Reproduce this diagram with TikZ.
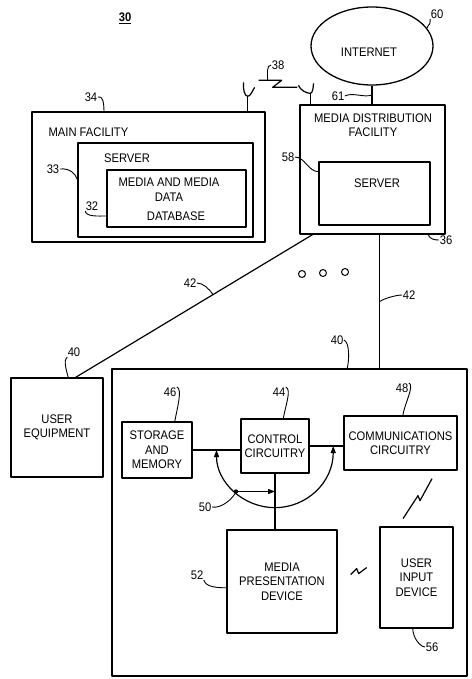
\documentclass[tikz,border=0pt]{standalone}
\usepackage{fontspec}
\setmainfont{Liberation Sans}[FakeStretch=0.9]
\usetikzlibrary{shapes.geometric,arrows.meta,calc}
\newcommand\dgf{\fontsize{12.5}{14.5}\selectfont}
\begin{document}
\begin{tikzpicture}[x=1bp,y=-1bp,line width=1.2bp,line join=round,
  box/.style={draw,line width=1.3bp,inner sep=0pt,align=center,font=\dgf},
  txt/.style={inner sep=0pt,align=center,font=\dgf},
  num/.style={inner sep=0pt,font=\dgf},
  lead/.style={line width=0.9bp},
  onetip/.style={-{Triangle[length=7bp,width=5bp]}},
  twotip/.style={{Triangle[length=7bp,width=5bp]}-{Triangle[length=7bp,width=5bp]}},
  dotc/.style={draw,circle,line width=1bp,minimum size=7bp,inner sep=0pt}]
\useasboundingbox (0,0) rectangle (472,679);

\node[num] (l30) at (125,18) {\underline{\textbf{30}}};

% internet
\node[draw,ellipse,line width=1.3bp,minimum width=122bp,minimum height=78bp,inner sep=0pt] (inet) at (372,46) {};
\node[txt] (tinet) at (369,52) {INTERNET};
\node[num] (l60) at (437,14) {60};

% main facility
\node[box,minimum width=233bp,minimum height=130bp] (main) at (148.5,177) {};
\node[txt,anchor=west] (tmain) at (48,132) {MAIN FACILITY};
\node[box,minimum width=175bp,minimum height=94bp] (msrv) at (165.5,190) {};
\node[txt] (tmsrv) at (127,158) {SERVER};
\node[box,minimum width=139bp,minimum height=57bp] (mdb) at (176.5,198.5) {};
\node[txt] (tmdb) at (169,189.5) {MEDIA AND MEDIA\\DATA};
\node[txt] (tdb) at (176,216) {DATABASE};
\node[num] (l34) at (91,97) {34};
\node[num] (l33) at (53,169) {33};
\node[num] (l32) at (92,206) {32};

% media distribution facility
\node[box,minimum width=145bp,minimum height=129bp] (mdf) at (372.5,169.5) {};
\node[txt] (tmdf) at (373,125) {MEDIA DISTRIBUTION\\FACILITY};
\node[box,minimum width=111bp,minimum height=63bp] (dsrv) at (374.5,193.5) {};
\node[txt] (tdsrv) at (377,183) {SERVER};
\node[num] (l58) at (288,157) {58};
\node[num] (l36) at (446,240) {36};
\node[num] (l61) at (338,96) {61};
\node[num] (l38) at (278,65) {38};

% user equipment
\node[box,minimum width=92bp,minimum height=99bp] (ue) at (57,427.5) {USER\\EQUIPMENT};
\node[box,minimum width=355bp,minimum height=307bp] (big) at (289.5,522.5) {};
\node[box,minimum width=70bp,minimum height=56bp] (stor) at (157,450) {STORAGE\\AND\\MEMORY};
\node[box,minimum width=68bp,minimum height=54bp] (ctrl) at (275,446) {CONTROL\\CIRCUITRY};
\node[box,minimum width=113bp,minimum height=54bp] (comm) at (400.5,443) {COMMUNICATIONS\\CIRCUITRY};
\node[box,minimum width=110bp,minimum height=103bp] (mpd) at (282,581.5) {MEDIA\\PRESENTATION\\DEVICE};
\node[box,minimum width=73bp,minimum height=101bp] (uid) at (416.5,577.5) {USER\\INPUT\\DEVICE};
\node[num] (l42a) at (190,283) {42};
\node[num] (l42b) at (409,295) {42};
\node[num] (l40a) at (74,352) {40};
\node[num] (l40b) at (337,340) {40};
\node[num] (l46) at (170,392) {46};
\node[num] (l44) at (279,392) {44};
\node[num] (l48) at (402,388) {48};
\node[num] (l50) at (205,507) {50};
\node[num] (l52) at (197,575) {52};
\node[num] (l56) at (432,647) {56};

\node[dotc] (c1) at (302,274) {};
\node[dotc] (c2) at (323,273) {};
\node[dotc] (c3) at (345,272) {};

% internet link
\draw (inet.south) -- (inet.south |- mdf.north);
\draw[lead] (l60.south west) .. controls +(0,8) and +(2,-6) .. (inet.18);
\draw[lead] (l61.east) .. controls +(8,-4) and +(-8,3) .. ($(inet.south)!0.5!(inet.south |- mdf.north)$);

% antennas
\coordinate (antL) at ($(main.north west)!0.923!(main.north east)$);
\coordinate (antR) at ($(mdf.north west)!0.076!(mdf.north east)$);
\draw (antL) -- ++(0,-15) coordinate (antLt);
\draw (antR) -- ++(0,-11) coordinate (antRt);
\draw (antLt) .. controls +(-3,0) and +(-1,6) .. ++(-4,-14);
\draw (antLt) .. controls +(3,0) and +(-2,3) .. ++(7,-9);
\draw (antRt) .. controls +(-4,0) and +(2,5) .. ++(-12,-8);
\draw (antRt) .. controls +(2,0) and +(0,4) .. ++(3,-10);
\coordinate (zL) at ($(antLt)+(11,-16)$);
\coordinate (zR) at ($(antRt)+(-13,-6)$);
\draw (zL) -- ++(23,0) -- ++(-9,7) -- (zR);
\draw[lead] (l38.west) .. controls +(-5,0) and +(0,-6) .. ($(zL)+(9,0)$);

% labels main facility
\draw[lead] (l34.east) .. controls +(5,-2) and +(0,-8) .. ($(main.north west)!0.31!(main.north east)$);
\draw[lead] (l33.east) .. controls +(10,-1) and +(-2,-6) .. ($(msrv.north west)!0.39!(msrv.south west)$);
\draw[lead] (l32.south west) .. controls +(1,6) and +(-8,0) .. ($(mdb.north west)!0.8!(mdb.south west)$);
\draw[lead] (l58.east) .. controls +(10,0) and +(-10,0) .. ($(dsrv.north west)!0.16!(dsrv.south west)$);
\draw[lead] ($(mdf.south west)!0.88!(mdf.south east)$) .. controls +(2,5) and +(-4,0) .. (l36.west);

% links 42
\coordinate (m42a) at ($(mdf.south west)!0.09!(mdf.south east)$);
\coordinate (u42) at ($(ue.north west)!0.70!(ue.north east)$);
\draw (m42a) -- (u42);
\coordinate (m42b) at ($(mdf.south west)!0.55!(mdf.south east)$);
\draw (m42b) -- (m42b |- big.north);
\draw[lead] (l42a.east) .. controls +(6,0) and +(-4,-6) .. ($(m42a)!0.42!(u42)$);
\draw[lead] (l42b.west) .. controls +(-6,0) and +(4,-3) .. ($(m42b)!0.5!(m42b |- big.north)$);
\draw[lead] (l40a.south west) .. controls +(-4,3) and +(-2,-8) .. ($(ue.north west)!0.62!(ue.north east)$);
\draw[lead] (l40b.east) .. controls +(6,2) and +(2,-8) .. ($(big.north west)!0.662!(big.north east)$);

% inner connectors
\draw (stor.east) -- (stor.east -| ctrl.west);
\draw (ctrl.east) -- (ctrl.east -| comm.west);
\draw (ctrl.south) -- (ctrl.south |- mpd.north);
\coordinate (arcL) at ($(stor.east)!0.5!(stor.east -| ctrl.west)$);
\coordinate (arcR) at ($(ctrl.east)!0.7!(ctrl.east -| comm.west)$);
\coordinate (arcB) at ($(ctrl.south)+(0,34)$);
\draw[twotip] (arcL) .. controls +(0,32) and +(-32,0) .. (arcB) .. controls +(32,0) and +(0,36) .. (arcR);
\coordinate (dot) at (236,491.5);
\fill (dot) circle[radius=2.2bp];
\draw[onetip] (dot) -- (dot -| ctrl.south);
\draw[lead] (l50.east) .. controls +(10,2) and +(-2,6) .. (dot);

\draw[lead] (l46.north east) .. controls +(6,2) and +(2,-12) .. ($(stor.north west)!0.75!(stor.north east)$);
\draw[lead] (l44.north east) .. controls +(6,2) and +(2,-12) .. ($(ctrl.north west)!0.62!(ctrl.north east)$);
\draw[lead] (l48.north east) .. controls +(6,2) and +(2,-12) .. ($(comm.north west)!0.52!(comm.north east)$);
\draw[lead] (l52.south east) .. controls +(2,7) and +(-10,0) .. ($(mpd.north west)!0.56!(mpd.south west)$);
\draw[lead] ($(uid.south west)!0.45!(uid.south east)$) .. controls +(0,9) and +(-5,0) .. (l56.west);

% wireless marks
\coordinate (lt1) at ($(comm.south)+(2.5,48)$);
\draw (lt1) -- ++(15,-23) -- ++(2,5) -- ++(12,-22);
\coordinate (zz) at ($(mpd.east)!0.48!(uid.west)+(0,-8)$);
\draw (zz) ++(-7,3) -- ++(6,-6) -- ++(2,5) -- ++(8,-6);
\end{tikzpicture}
\end{document}
